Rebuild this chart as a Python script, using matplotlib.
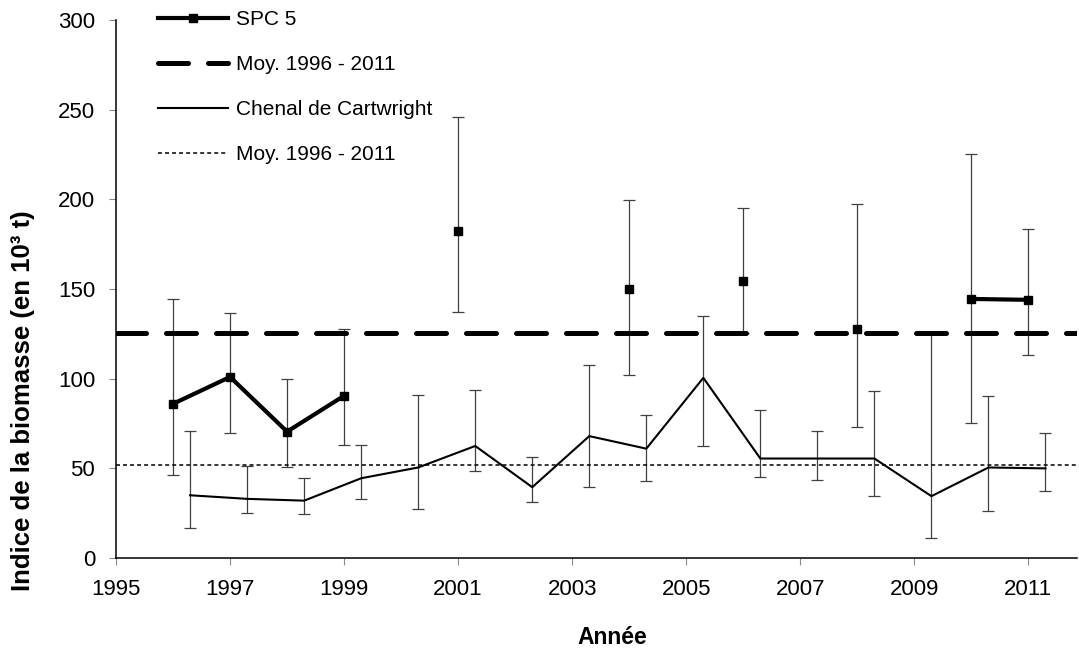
import numpy as np
import matplotlib.pyplot as plt

plt.rcParams['font.family'] = ['Liberation Sans', 'DejaVu Sans']

# SPC 5 (NaN = pas de relevé)
annees = np.arange(1996, 2012)
spc5 = [86, 101, 70.5, 90.5, np.nan, 182.5, np.nan, np.nan, 150, np.nan, 154.5, np.nan, 127.5, np.nan, 144.5, 144]
spc5_haut = [144.5, 136.5, 100, 128, np.nan, 246, np.nan, np.nan, 199.5, np.nan, 195, np.nan, 197.5, np.nan, 225.5, 183.5]
spc5_bas = [46.5, 70, 50.5, 63, np.nan, 137, np.nan, np.nan, 102, np.nan, 125.5, np.nan, 73, np.nan, 75.5, 113]
moy_spc5 = 125.5

# Chenal de Cartwright
cart = [35, 33, 32, 44.5, 50.5, 62.5, 39.5, 68, 61, 100.5, 55.5, 55.5, 55.5, 34.5, 50.5, 50]
cart_haut = [71, 51.5, 44.5, 63, 91, 93.5, 56.5, 107.5, 80, 135, 82.5, 71, 93, 125, 90.5, 69.5]
cart_bas = [17, 25, 24.5, 33, 27.5, 48.5, 31, 39.5, 43, 62.5, 45, 43.5, 34.5, 11, 26, 37.5]
moy_cart = 52

spc5 = np.array(spc5)
cart = np.array(cart)
x_cart = annees + 0.3

fig = plt.figure(figsize=(10.79, 6.5), dpi=100)
ax = fig.add_axes([0.1075, 0.1415, 0.8905, 0.8275])

ecart_col = '#404040'
ok = ~np.isnan(spc5)
ax.errorbar(annees[ok], spc5[ok],
            yerr=[spc5[ok] - np.array(spc5_bas)[ok], np.array(spc5_haut)[ok] - spc5[ok]],
            fmt='none', ecolor=ecart_col, elinewidth=0.9, capsize=4.5, capthick=0.9, zorder=2)
ax.errorbar(x_cart, cart, yerr=[cart - np.array(cart_bas), np.array(cart_haut) - cart],
            fmt='none', ecolor=ecart_col, elinewidth=0.9, capsize=4.5, capthick=0.9, zorder=2)

ax.plot(annees, spc5, color='black', lw=3, marker='s', ms=5.5, label='SPC 5', zorder=4)
ax.axhline(moy_spc5, color='black', lw=3.6, dashes=(6, 4), dash_capstyle='round',
           label='Moy. 1996 - 2011', zorder=3)
ax.plot(x_cart, cart, color='black', lw=1.5, label='Chenal de Cartwright', zorder=4)
ax.axhline(moy_cart, color='black', lw=1.1, dashes=(2.6, 2), label='Moy. 1996 - 2011', zorder=3)

ax.set_xlim(1995, 2011.85)
ax.set_ylim(0, 300)
ax.set_xticks(np.arange(1995, 2012, 2))
ax.set_yticks(np.arange(0, 301, 50))
ax.tick_params(axis='both', labelsize=16, direction='out', length=5, width=0.8, colors='#888888',
               labelcolor='black')
ax.tick_params(axis='x', pad=10)
ax.tick_params(axis='y', pad=10)
for s in ['top', 'right']:
    ax.spines[s].set_visible(False)
for s in ['left', 'bottom']:
    ax.spines[s].set_linewidth(1.1)

ax.set_ylabel('Indice de la biomasse (en 10³ t)', fontsize=18.5, fontweight='bold', va='center')
ax.yaxis.set_label_coords(-0.097, 0.292)
ax.set_xlabel('Année', fontsize=16.5, fontweight='bold', va='center')
ax.xaxis.set_label_coords(0.517, -0.147)

ax.legend(loc='upper left', bbox_to_anchor=(0.0437, 1.018), frameon=False, fontsize=15,
          handlelength=3.37, handletextpad=0.38, labelspacing=1.24, borderaxespad=0,
          borderpad=0)

fig.savefig('out.png', dpi=100)
